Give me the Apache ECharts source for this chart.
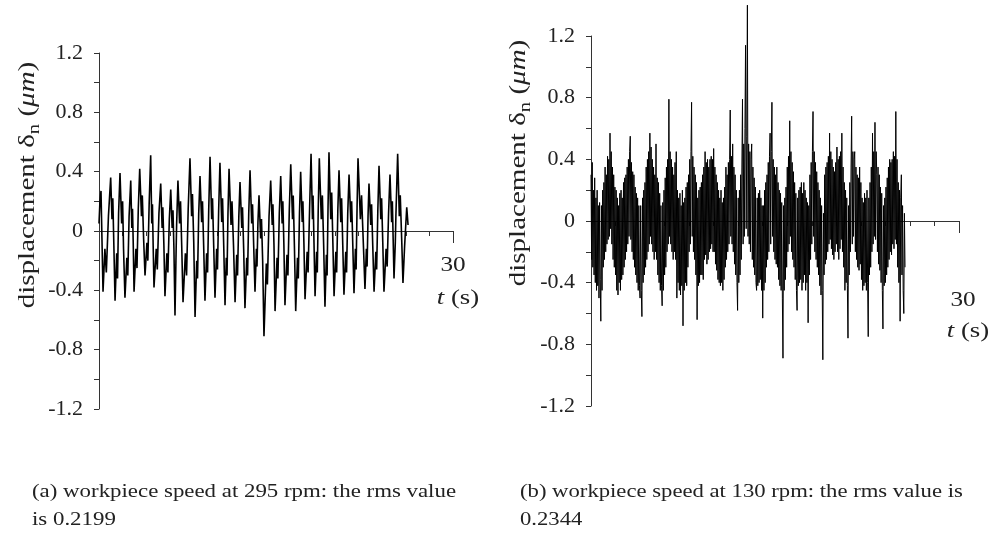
<!DOCTYPE html>
<html>
<head>
<meta charset="utf-8">
<script src="https://cdn.jsdelivr.net/npm/echarts@6/dist/echarts.min.js"></script>
<style>html,body{margin:0;padding:0;background:#fff;}#c{width:993px;height:544px;}</style>
</head>
<body>
<div id="c"></div>
<script>
// ---- Data ----
// Panel (a): 295 rpm, time (s) and displacement (µm)
const leftT = [0.00,0.08,0.17,0.25,0.34,0.50,0.62,0.80,0.99,1.10,1.17,1.26,1.36,1.50,1.57,1.66,1.78,1.92,2.00,2.08,2.20,2.36,2.44,2.55,2.69,2.78,2.84,2.90,2.97,3.13,3.22,3.33,3.45,3.60,3.67,3.78,3.90,4.06,4.14,4.25,4.38,4.47,4.53,4.59,4.66,4.85,4.94,5.08,5.23,5.35,5.41,5.50,5.59,5.75,5.84,5.96,6.08,6.20,6.27,6.35,6.44,6.52,6.58,6.69,6.83,6.91,7.01,7.12,7.32,7.42,7.56,7.71,7.85,7.92,8.03,8.14,8.28,8.35,8.45,8.56,8.70,8.77,8.87,8.98,9.12,9.20,9.30,9.41,9.55,9.62,9.72,9.83,9.97,10.04,10.14,10.25,10.40,10.47,10.57,10.68,10.79,10.85,10.93,11.02,11.19,11.27,11.40,11.53,11.67,11.74,11.85,11.95,12.10,12.16,12.26,12.37,12.52,12.59,12.69,12.80,12.94,13.01,13.11,13.22,13.34,13.39,13.47,13.56,13.70,13.77,13.87,13.98,14.18,14.27,14.41,14.55,14.68,14.74,14.83,14.92,15.09,15.16,15.28,15.40,15.52,15.58,15.67,15.76,15.93,16.01,16.13,16.25,16.40,16.46,16.56,16.67,16.82,16.89,16.99,17.09,17.22,17.28,17.37,17.46,17.64,17.72,17.85,17.97,18.09,18.14,18.22,18.31,18.44,18.50,18.58,18.67,18.84,18.93,19.04,19.15,19.27,19.33,19.41,19.49,19.64,19.72,19.82,19.92,20.07,20.14,20.24,20.34,20.49,20.56,20.66,20.76,20.91,20.98,21.08,21.19,21.34,21.41,21.51,21.61,21.73,21.79,21.87,21.95,22.15,22.25,22.40,22.54,22.66,22.72,22.80,22.88,23.03,23.10,23.20,23.31,23.46,23.53,23.63,23.73,23.88,23.95,24.05,24.15,24.33,24.42,24.54,24.66,24.80,24.86,24.93,25.00,25.11,25.16,25.31,25.45,25.53,25.65,25.76,25.90,26.08,26.19];
const leftV = [0.05,0.20,0.27,-0.05,-0.41,-0.12,-0.28,0.10,0.36,0.08,0.22,-0.10,-0.47,-0.15,-0.32,0.12,0.39,0.05,0.20,-0.12,-0.45,-0.18,-0.30,0.10,0.34,0.02,0.15,-0.08,-0.41,-0.12,-0.25,0.15,0.42,0.10,0.24,-0.05,-0.30,-0.08,-0.20,0.18,0.51,0.05,0.18,-0.10,-0.38,-0.12,-0.26,0.12,0.32,0.02,0.16,-0.10,-0.44,-0.15,-0.28,0.08,0.28,0.02,0.14,-0.12,-0.57,-0.20,0.05,0.34,0.05,0.20,-0.10,-0.48,-0.15,-0.30,0.15,0.49,0.10,0.25,-0.08,-0.58,-0.20,-0.32,0.12,0.37,0.06,0.20,-0.10,-0.47,-0.15,-0.28,0.15,0.50,0.08,0.22,-0.10,-0.45,-0.12,-0.26,0.14,0.46,0.06,0.22,-0.10,-0.50,-0.18,-0.30,0.12,0.42,0.04,0.20,-0.10,-0.48,-0.16,-0.30,0.10,0.33,0.02,0.16,-0.12,-0.52,-0.18,-0.30,0.12,0.41,0.05,0.18,-0.10,-0.41,-0.12,-0.24,0.06,0.24,-0.05,0.08,-0.20,-0.71,-0.22,-0.36,0.10,0.34,0.04,0.18,-0.10,-0.54,-0.18,-0.32,0.12,0.37,0.05,0.20,-0.10,-0.50,-0.16,-0.30,0.15,0.45,0.08,0.24,-0.10,-0.54,-0.18,-0.32,0.12,0.40,0.06,0.20,-0.10,-0.46,-0.14,-0.28,0.16,0.52,0.08,0.24,-0.08,-0.44,-0.14,-0.28,0.15,0.49,0.08,0.24,-0.10,-0.51,-0.16,-0.30,0.16,0.53,0.08,0.26,-0.08,-0.44,-0.14,-0.28,0.14,0.41,0.06,0.22,-0.10,-0.43,-0.14,-0.28,0.12,0.38,0.06,0.20,-0.10,-0.42,-0.12,-0.26,0.16,0.49,0.08,0.24,-0.08,-0.39,-0.12,-0.24,0.10,0.32,0.04,0.18,-0.10,-0.41,-0.14,-0.26,0.14,0.44,0.08,0.22,-0.08,-0.41,-0.12,-0.24,0.12,0.38,0.06,0.20,-0.06,-0.32,-0.08,0.10,0.52,0.10,0.24,-0.05,-0.35,-0.10,0.16,0.04];

// Panel (b): 130 rpm, sampled every 0.05 s from t = 0 (one row per second)
const rightStep = 0.05;
const rightV = [
 0.30,-0.25,0.38,-0.30,0.20,-0.35,0.28,-0.40,0.15,-0.45,0.20,-0.42,0.10,-0.50,0.12,-0.38,-0.65,0.10,-0.45,0.20,
 -0.30,0.25,-0.25,0.35,-0.20,0.30,-0.15,0.42,-0.12,0.40,-0.10,0.57,-0.05,0.45,-0.15,0.35,-0.25,0.30,-0.30,0.22,
 -0.35,0.20,-0.45,0.15,-0.48,0.10,-0.40,0.18,-0.45,0.20,-0.38,0.15,-0.35,0.25,-0.30,0.28,-0.25,0.30,-0.20,0.35,
 -0.15,0.40,-0.10,0.45,0.55,-0.12,0.38,-0.20,0.32,-0.25,0.30,-0.30,0.22,-0.35,0.18,-0.40,0.15,-0.45,0.10,-0.42,
 -0.50,0.10,-0.45,-0.62,0.15,-0.40,0.20,-0.35,0.25,-0.30,0.35,-0.25,0.40,-0.20,0.45,-0.15,0.57,-0.10,0.48,-0.15,
 0.40,-0.20,0.35,-0.25,0.30,-0.20,0.50,-0.25,0.28,-0.35,0.25,-0.40,0.18,-0.45,0.10,-0.42,-0.55,0.12,-0.45,0.20,
 -0.35,0.28,-0.30,0.35,-0.20,0.40,-0.15,0.79,-0.10,0.45,-0.15,0.40,-0.20,0.35,-0.25,0.30,-0.20,0.38,-0.25,0.45,
 -0.50,0.20,-0.40,0.15,-0.45,0.18,-0.48,0.10,-0.42,0.20,-0.68,0.12,-0.45,0.15,-0.40,0.22,-0.42,0.25,-0.30,0.30,
 -0.20,0.40,-0.15,0.45,0.77,-0.10,0.42,-0.20,0.35,-0.25,0.30,-0.35,0.25,-0.64,0.15,-0.42,0.20,-0.40,0.22,-0.35,
 0.25,-0.35,0.30,-0.38,0.35,-0.25,0.45,-0.22,0.38,-0.28,0.40,-0.25,0.35,-0.20,0.40,-0.18,0.42,-0.15,0.40,-0.20,
 0.47,-0.20,0.35,-0.28,0.30,-0.32,0.25,-0.38,0.20,-0.40,0.15,-0.42,0.20,-0.40,0.12,-0.45,0.15,-0.38,0.22,-0.30,
 0.35,-0.25,0.30,-0.20,0.38,-0.15,0.40,0.72,-0.10,0.42,-0.15,0.50,-0.20,0.35,-0.28,0.30,-0.35,0.20,-0.40,-0.58,
 0.15,-0.40,0.20,-0.35,0.30,-0.25,0.35,0.79,-0.15,0.50,-0.10,0.60,1.14,-0.05,0.55,1.40,-0.10,0.50,-0.15,0.45,
 -0.20,0.40,0.50,-0.25,0.35,-0.30,0.28,-0.35,0.22,-0.40,-0.45,0.15,-0.42,0.18,-0.40,0.20,-0.38,0.15,-0.45,0.10,
 -0.63,0.10,-0.45,0.20,-0.40,0.25,-0.30,0.30,-0.25,0.38,-0.20,0.42,0.57,-0.15,0.45,0.77,-0.10,0.40,-0.20,0.35,
 -0.25,0.30,-0.28,0.35,-0.30,0.25,-0.38,0.20,-0.42,0.18,-0.45,0.12,-0.50,-0.89,0.10,-0.45,0.15,-0.38,0.22,-0.30,
 0.35,-0.20,0.42,-0.15,0.65,-0.10,0.45,-0.20,0.38,-0.25,0.32,-0.30,0.25,-0.38,0.18,-0.45,-0.58,0.15,-0.42,0.20,
 -0.40,0.22,-0.38,0.25,-0.45,0.18,-0.40,0.25,-0.35,0.20,-0.45,0.15,-0.40,0.12,-0.66,0.10,-0.35,0.30,-0.25,0.38,
 -0.15,0.45,0.71,-0.10,0.45,-0.20,0.38,-0.25,0.32,-0.30,0.25,-0.35,0.20,-0.42,0.15,-0.48,0.10,-0.45,-0.90,0.05,
 -0.35,0.30,-0.28,0.35,-0.25,0.38,-0.20,0.42,-0.15,0.57,-0.12,0.45,-0.18,0.40,-0.22,0.35,-0.25,0.32,-0.20,0.38,
 -0.15,0.48,-0.20,0.40,-0.25,0.42,-0.18,0.45,-0.12,0.57,-0.20,0.35,-0.30,0.25,-0.45,0.20,-0.40,0.15,-0.42,-0.76,
 0.10,-0.35,0.25,-0.20,0.35,0.68,-0.15,0.45,-0.10,0.40,0.45,-0.20,0.35,-0.25,0.30,-0.30,0.28,-0.32,0.35,-0.28,
 0.25,-0.38,0.15,-0.45,0.12,-0.42,0.18,-0.40,0.15,-0.45,0.20,-0.40,-0.75,0.15,-0.35,0.25,-0.30,0.35,-0.20,0.57,
 -0.15,0.45,-0.10,0.64,-0.12,0.45,0.30,-0.20,0.35,-0.28,0.30,-0.32,0.22,-0.40,0.18,-0.45,-0.70,0.10,-0.42,0.15,
 -0.40,0.22,-0.35,0.28,-0.30,0.35,-0.25,0.40,-0.20,0.38,-0.22,0.40,-0.15,0.45,-0.18,0.42,-0.12,0.71,-0.15,0.40,
 -0.30,0.25,-0.40,0.20,-0.65,0.15,0.30,-0.35,0.10,-0.45,-0.60,0.05,-0.30
];

const yTicksShown = ['1.2','0.8','0.4','0','-0.4','-0.8','-1.2'];
const xEndLabel = '30';
const captionA = ['(a) workpiece speed at 295 rpm: the rms value', 'is 0.2199'];
const captionB = ['(b) workpiece speed at 130 rpm: the rms value is', '0.2344'];

// ---- Build ----
const leftData = leftT.map((t, i) => [t, leftV[i]]);
const rightData = rightV.map((v, i) => [+(i * rightStep).toFixed(2), v]);

const FONT = 'Liberation Serif';
const axisCol = '#333';
const txtCol = '#222';

function yAxis(gi) {
  return {
    type: 'value', gridIndex: gi, min: -1.2, max: 1.2, interval: 0.2,
    axisLine: { show: true, lineStyle: { color: axisCol, width: 1 } },
    axisTick: { show: true, length: 5, lineStyle: { color: axisCol } },
    splitLine: { show: false },
    axisLabel: {
      margin: 16, fontFamily: FONT, fontSize: 22, color: txtCol,
      formatter: function (v) {
        const s = (Math.round(v * 10) / 10);
        const str = s === 0 ? '0' : s.toFixed(1);
        return yTicksShown.indexOf(str) >= 0 ? str : '';
      }
    }
  };
}
function xAxis(gi, interval, tickLen) {
  return {
    type: 'value', gridIndex: gi, position: 'bottom', min: 0, max: 30, interval: interval,
    axisLine: { show: true, onZero: true, onZeroAxisIndex: gi, lineStyle: { color: axisCol, width: 1 } },
    axisTick: { show: true, length: tickLen, lineStyle: { color: axisCol } },
    axisLabel: { show: false },
    splitLine: { show: false }
  };
}

const yName = 'displacement δ{sub|n} ({it|μm})';
const yRich = {
  sub: { fontFamily: FONT, fontSize: 17, padding: [13, 0, 0, 0], fill: txtCol },
  it: { fontFamily: FONT, fontSize: 24, fontStyle: 'italic', fill: txtCol }
};
function yNameText(x, y) {
  return { type: 'text', x: x, y: y, rotation: Math.PI / 2, scaleX: 1.21, scaleY: 1,
    style: { text: yName, rich: yRich, fontFamily: FONT, fontSize: 24, fill: txtCol, align: 'center', verticalAlign: 'middle' } };
}
function plainText(x, y, text, size, sx, align) {
  return { type: 'text', x: x, y: y, scaleX: sx, scaleY: 1,
    style: { text: text, fontFamily: FONT, fontSize: size, fill: txtCol, align: align || 'center', verticalAlign: 'middle' } };
}
function tsText(x, y) {
  return { type: 'text', x: x, y: y, scaleX: 1.22, scaleY: 1,
    style: { text: '{it|t} (s)', rich: { it: { fontFamily: FONT, fontSize: 22, fontStyle: 'italic', fill: txtCol } },
      fontFamily: FONT, fontSize: 22, fill: txtCol, align: 'center', verticalAlign: 'middle' } };
}

const chart = echarts.init(document.getElementById('c'), null, { renderer: 'canvas' });
chart.setOption({
  animation: false,
  backgroundColor: '#fff',
  grid: [
    { left: 99, top: 53, width: 354, height: 356 },
    { left: 591, top: 36, width: 368, height: 370 }
  ],
  xAxis: [xAxis(0, 2, 5), xAxis(1, 2, 5), xAxis(0, 30, 12), xAxis(1, 30, 12)],
  yAxis: [yAxis(0), yAxis(1)],
  series: [
    { type: 'line', xAxisIndex: 0, yAxisIndex: 0, data: leftData, showSymbol: false, symbol: 'none', clip: false,
      lineStyle: { color: '#000', width: 1.6 } },
    { type: 'line', xAxisIndex: 1, yAxisIndex: 1, data: rightData, showSymbol: false, symbol: 'none', clip: false,
      lineStyle: { color: '#000', width: 1.0 } }
  ],
  graphic: [
    yNameText(28, 185),
    yNameText(519, 163),
    plainText(453, 265, xEndLabel, 21, 1.2),
    tsText(458, 298),
    plainText(963, 300, xEndLabel, 21, 1.2),
    tsText(968, 331),
    plainText(32, 492, captionA[0], 18, 1.27, 'left'),
    plainText(32, 520, captionA[1], 18, 1.27, 'left'),
    plainText(520, 492, captionB[0], 18, 1.26, 'left'),
    plainText(520, 520, captionB[1], 18, 1.26, 'left')
  ]
});
</script>
</body>
</html>
